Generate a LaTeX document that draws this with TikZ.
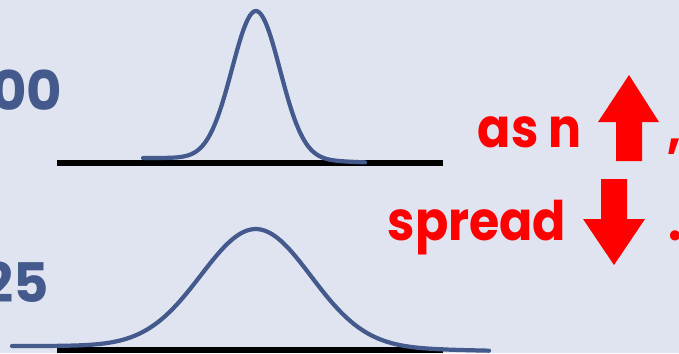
\documentclass[tikz,border=0pt]{standalone}
\usepackage{fontspec}
\setmainfont{Poppins}
\newfontfamily\narrowfont[FakeStretch=0.9]{Poppins}
\definecolor{bgcol}{RGB}{224,228,240}
\definecolor{curvecol}{RGB}{68,89,140}

\begin{document}
\begin{tikzpicture}[x=0.01cm, y=-0.01cm,
	curve/.style={curvecol, line width=1.2pt, line cap=round},
	axis/.style={black, line width=1.7pt},
	redlabel/.style={text=red, font=\narrowfont\bfseries\fontsize{15.5}{18}\selectfont, inner sep=0pt},
	bluelabel/.style={text=curvecol, font=\bfseries\fontsize{15.5}{18}\selectfont, inner sep=0pt}]
	\fill[bgcol] (0,0) rectangle (679,353);
	\useasboundingbox (0,0) rectangle (679,353);
	% axes
	\draw[axis] (57,163) -- (443,163);
	\draw[axis] (57,350) -- (443,350);
	% sampling distributions
	\draw[curve] plot[domain=143:365, samples=150, smooth] (\x, {158-147*exp(-0.5*((\x-256)/24)^2)+0.04*max(\x-256,0)});
	\draw[curve] plot[domain=12:489, samples=150, smooth] (\x, {346-117*exp(-0.5*((\x-256)/55)^2)+0.02*max(\x-256,0)});
	% sample sizes
	\node[bluelabel, anchor=base east] (nbig) at (63,110) {00};
	\node[bluelabel, anchor=base east] (nsmall) at (50,302) {25};
	% message
	\node[redlabel, anchor=base west] (asn) at (477,147) {as n};
	\node[redlabel, anchor=base west] (spread) at (387,240) {spread};
	\node[redlabel, anchor=base west] (comma) at (667,147) {,};
	\node[redlabel, anchor=base west] (stop) at (668,240) {.};
	\fill[red] (616,161) -- (616,122) -- (598,122) -- (629,75) -- (659,122) -- (642,122) -- (642,161) -- cycle;
	\fill[red] (601,179) -- (627,179) -- (627,219) -- (645,219) -- (614,265) -- (583,219) -- (601,219) -- cycle;
\end{tikzpicture}
\end{document}
